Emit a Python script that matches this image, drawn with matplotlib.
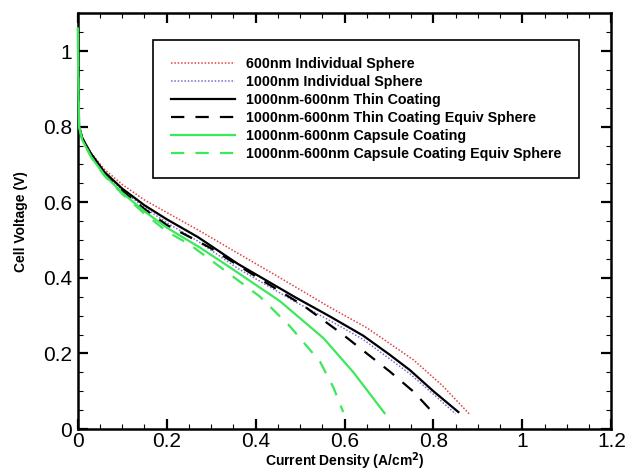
import matplotlib
matplotlib.use('Agg')
from matplotlib import pyplot as plt
from matplotlib.ticker import MultipleLocator

plt.rcParams['font.family'] = ['Liberation Sans', 'DejaVu Sans']

# 600nm Individual Sphere
x_600 = [0, 0.001, 0.003, 0.01, 0.03, 0.06, 0.1, 0.15, 0.2, 0.27, 0.35, 0.455, 0.567, 0.65, 0.755, 0.82, 0.883]
v_600 = [1.06, 0.95, 0.80, 0.77, 0.73, 0.687, 0.647, 0.606, 0.573, 0.527, 0.472, 0.400, 0.322, 0.268, 0.183, 0.115, 0.037]

# 1000nm Individual Sphere
x_1000 = [0, 0.001, 0.003, 0.01, 0.03, 0.06, 0.1, 0.15, 0.2, 0.27, 0.36, 0.49, 0.567, 0.642, 0.70, 0.747, 0.80, 0.850]
v_1000 = [1.05, 0.95, 0.80, 0.77, 0.727, 0.678, 0.632, 0.586, 0.546, 0.497, 0.425, 0.336, 0.287, 0.237, 0.187, 0.146, 0.092, 0.040]

# 1000nm-600nm Thin Coating
x_thin = [0, 0.001, 0.003, 0.01, 0.03, 0.06, 0.1, 0.15, 0.2, 0.27, 0.36, 0.49, 0.567, 0.642, 0.70, 0.747, 0.80, 0.856]
v_thin = [1.05, 0.95, 0.80, 0.77, 0.728, 0.68, 0.636, 0.592, 0.555, 0.508, 0.437, 0.348, 0.298, 0.247, 0.198, 0.156, 0.10, 0.045]

# 1000nm-600nm Thin Coating Equiv Sphere
x_thin_eq = [0, 0.001, 0.003, 0.01, 0.03, 0.06, 0.1, 0.15, 0.2, 0.297, 0.403, 0.507, 0.594, 0.65, 0.702, 0.755, 0.80]
v_thin_eq = [1.05, 0.95, 0.80, 0.77, 0.727, 0.677, 0.63, 0.582, 0.54, 0.48, 0.402, 0.327, 0.252, 0.20, 0.152, 0.099, 0.042]

# 1000nm-600nm Capsule Coating
x_cap = [0, 0.001, 0.003, 0.01, 0.03, 0.06, 0.1, 0.15, 0.2, 0.275, 0.342, 0.455, 0.553, 0.62, 0.69]
v_cap = [1.06, 0.94, 0.80, 0.765, 0.72, 0.672, 0.625, 0.576, 0.533, 0.48, 0.428, 0.338, 0.24, 0.15, 0.042]

# 1000nm-600nm Capsule Coating Equiv Sphere
x_cap_eq = [0, 0.001, 0.003, 0.01, 0.03, 0.06, 0.1, 0.15, 0.2, 0.252, 0.313, 0.41, 0.477, 0.545, 0.575, 0.597]
v_cap_eq = [1.06, 0.94, 0.80, 0.765, 0.72, 0.67, 0.622, 0.57, 0.523, 0.488, 0.435, 0.35, 0.272, 0.178, 0.11, 0.045]

labels = ['600nm Individual Sphere',
          '1000nm Individual Sphere',
          '1000nm-600nm Thin Coating',
          '1000nm-600nm Thin Coating Equiv Sphere',
          '1000nm-600nm Capsule Coating',
          '1000nm-600nm Capsule Coating Equiv Sphere']

green = '#3ce85a'

fig = plt.figure(figsize=(6.27, 4.72), dpi=100)
ax = fig.add_axes([0.124, 0.091, 0.851, 0.881])

ax.plot(x_600, v_600, color='#e04040', lw=1.1, ls=(0, (1, 1.2)), label=labels[0], zorder=3)
ax.plot(x_1000, v_1000, color='#7a6ad0', lw=1.1, ls=(0, (1, 1.2)), label=labels[1], zorder=3)
ax.plot(x_thin, v_thin, color='black', lw=1.6, label=labels[2], zorder=3)
ax.plot(x_thin_eq, v_thin_eq, color='black', lw=1.6, ls=(0, (6, 5)), label=labels[3], zorder=3)
ax.plot(x_cap, v_cap, color=green, lw=1.6, label=labels[4], zorder=3, clip_on=False)
ax.plot(x_cap_eq, v_cap_eq, color=green, lw=1.6, ls=(0, (6, 5)), label=labels[5], zorder=3)

ax.set_xlim(0, 1.2)
ax.set_ylim(0, 1.1)
ax.xaxis.set_minor_locator(MultipleLocator(0.05))
ax.yaxis.set_minor_locator(MultipleLocator(0.05))
ax.set_xticks([0, 0.2, 0.4, 0.6, 0.8, 1, 1.2])
ax.set_xticklabels(['0', '0.2', '0.4', '0.6', '0.8', '1', '1.2'])
ax.set_yticks([0, 0.2, 0.4, 0.6, 0.8, 1])
ax.set_yticklabels(['0', '0.2', '0.4', '0.6', '0.8', '1'])
ax.tick_params(which='both', direction='in', top=True, right=True, labelsize=15)
ax.tick_params(axis='x', pad=2)
ax.tick_params(axis='y', pad=4)
ax.tick_params(which='major', length=7, width=1.6)
ax.tick_params(which='minor', length=3.5, width=0.8)
for s in ax.spines.values():
    s.set_linewidth(1.8)

ax.set_xlabel('Current Density (A/cm$^\\mathbf{2}$)', fontsize=10, fontweight='bold', labelpad=0)
ax.set_ylabel('Cell Voltage (V)', fontsize=10, fontweight='bold', labelpad=11)

leg = ax.legend(loc='center', bbox_to_anchor=(0.141, 0.611, 0.799, 0.317),
                fancybox=False, edgecolor='black', framealpha=1,
                prop={'size': 10.3, 'weight': 'bold'},
                handlelength=4.5, handletextpad=0.8, labelspacing=0.28,
                borderpad=1.2)
leg.get_frame().set_linewidth(1.2)

fig.savefig('out.png', dpi=100)
